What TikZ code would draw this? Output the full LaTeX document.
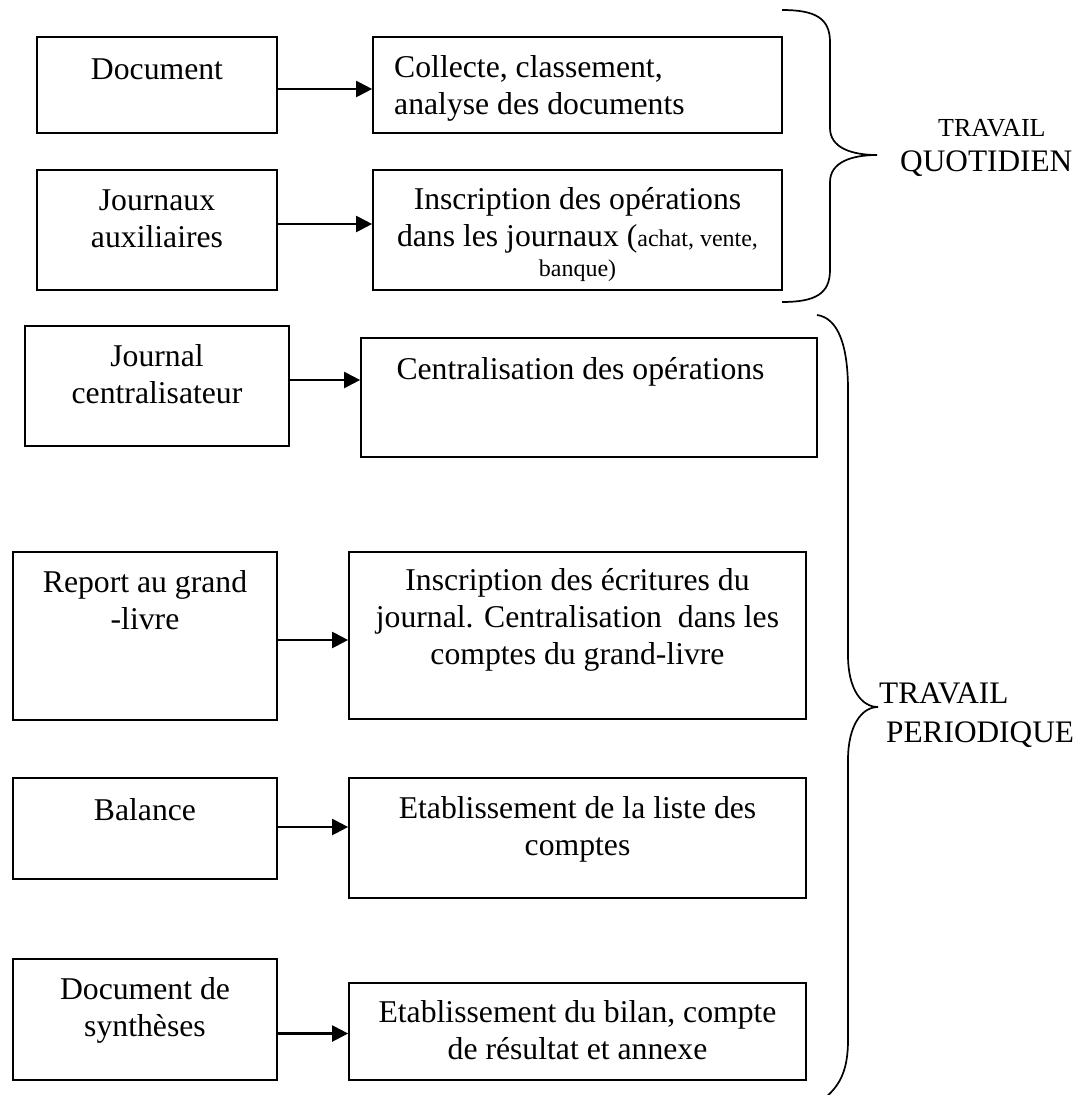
\documentclass[tikz,border=0pt]{standalone}
\usepackage{fontspec}
\setmainfont{Liberation Serif}
\usetikzlibrary{arrows.meta,calc}

% stacked, centred (or left-aligned) lines whose base is the first line
\newcommand{\boxlines}[2][c]{\begin{tabular}[t]{@{}#1@{}}#2\end{tabular}}
\newcommand{\smalltxt}{\fontsize{24}{28}\selectfont}

\begin{document}
\begin{tikzpicture}[x=1pt,y=-1pt,
  box/.style={draw, line width=1.7pt, rectangle, inner sep=0pt},
  txt/.style={inner sep=0pt, anchor=base, font=\fontsize{31.7}{37}\selectfont},
  side/.style={inner sep=0pt, anchor=base west, font=\fontsize{31.3}{37}\selectfont},
  arr/.style={line width=2.2pt, -{Triangle[length=16pt,width=16pt]}},
  brace/.style={line width=1.7pt}]

\useasboundingbox (0,0) rectangle (1090,1095);

% ---------- boxes ----------
\node[box, minimum width=240, minimum height=96]  (doc) at (157,85) {};
\node[box, minimum width=409, minimum height=96]  (col) at (577.5,85) {};
\node[box, minimum width=240, minimum height=120] (jou) at (157,230) {};
\node[box, minimum width=409, minimum height=120] (ins) at (577.5,230) {};
\node[box, minimum width=264, minimum height=120] (jc)  at (157,386) {};
\node[box, minimum width=456, minimum height=119] (cen) at (589,397.5) {};
\node[box, minimum width=264, minimum height=168] (rep) at (145,636) {};
\node[box, minimum width=457, minimum height=167] (ecr) at (577.5,635.5) {};
\node[box, minimum width=264, minimum height=101] (bal) at (145,828.5) {};
\node[box, minimum width=457, minimum height=120] (lst) at (577.5,838) {};
\node[box, minimum width=264, minimum height=121] (syn) at (145,1019.5) {};
\node[box, minimum width=457, minimum height=97]  (bil) at (577.5,1031.5) {};

% ---------- texts ----------
\node[txt] (docT) at (157,79) {Document};
\node[txt, anchor=base west] (colT) at (394,77)
  {\boxlines[l]{Collecte, classement,\\analyse des documents}};
\node[txt] (jouT) at (157,210) {\boxlines{Journaux\\auxiliaires}};
\node[txt] (insT) at (577.5,209)
  {\boxlines{Inscription des opérations\\dans les journaux ({\smalltxt achat, vente,}\\[-7pt]{\smalltxt banque)}}};
\node[txt] (jcT) at (157,366) {\boxlines{Journal\\centralisateur}};
\node[txt] (cenT) at (580.5,379) {Centralisation des opérations};
\node[txt] (repT) at (145,592) {\boxlines{Report au grand\\-livre}};
\node[txt] (ecrT) at (577.5,590)
  {\boxlines{Inscription des écritures du\\journal. Centralisation\ \ dans les\\comptes du grand-livre}};
\node[txt] (balT) at (145,820) {Balance};
\node[txt] (lstT) at (577.5,818) {\boxlines{Etablissement de la liste des\\comptes}};
\node[txt] (synT) at (145,999) {\boxlines{Document de\\synthèses}};
\node[txt] (bilT) at (577.5,1022) {\boxlines{Etablissement du bilan, compte\\de résultat et annexe}};

% ---------- arrows ----------
\coordinate (a1) at ($(doc.east)+(0,4)$);
\coordinate (a2) at ($(jou.east)+(0,-6)$);
\coordinate (a3) at ($(jc.east)+(0,-6)$);
\coordinate (a4) at ($(rep.east)+(0,4)$);
\coordinate (a5) at ($(bal.east)+(0,-1.5)$);
\coordinate (a6) at ($(syn.east)+(0,14)$);
\draw[arr] (a1) -- (a1 -| col.west);
\draw[arr] (a2) -- (a2 -| ins.west);
\draw[arr] (a3) -- (a3 -| cen.west);
\draw[arr] (a4) -- (a4 -| ecr.west);
\draw[arr] (a5) -- (a5 -| lst.west);
\draw[arr] (a6) -- (a6 -| bil.west);

% ---------- braces ----------
\draw[brace] (782,10) .. controls (815,10) and (830,18) .. (830,42)
  -- (830,128) .. controls (830,148) and (852,155) .. (877,155)
  .. controls (852,155) and (830,162) .. (830,182)
  -- (830,270) .. controls (830,294) and (815,302) .. (782,302);
\draw[brace] (817,315) .. controls (838,318) and (848,345) .. (848,390)
  -- (848,655) .. controls (848,690) and (862,707) .. (878,707)
  .. controls (862,707) and (848,725) .. (848,760)
  -- (848,1040) .. controls (848,1070) and (840,1085) .. (826,1097);

% ---------- side labels ----------
\node[side, font=\fontsize{26}{30}\selectfont] (tq1) at (938,136) {TRAVAIL};
\node[side] (tq2) at (900,171) {QUOTIDIEN};
\node[side] (tp1) at (879,703) {TRAVAIL};
\node[side] (tp2) at (886,742) {PERIODIQUE};

\end{tikzpicture}
\end{document}
